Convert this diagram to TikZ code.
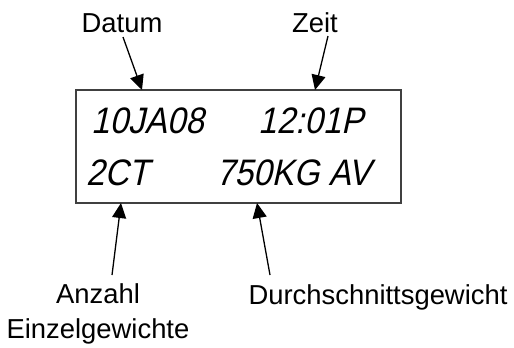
\documentclass[tikz,border=0pt]{standalone}
\usepackage{fontspec}
\setmainfont{Liberation Sans}
\newfontfamily\lcdfont[FakeSlant=0.22,FakeStretch=0.9]{Liberation Sans}
\usetikzlibrary{arrows.meta}
\begin{document}
\begin{tikzpicture}[x=1bp, y=-1bp,
    pointer/.style={line width=1.3bp, -{Triangle[length=15bp,width=14bp]}},
    caption/.style={inner sep=0pt, font=\fontsize{27.5}{35}\selectfont, align=center},
    lcd/.style={inner sep=0pt, anchor=base west, font=\lcdfont\fontsize{37}{37}\selectfont} ]
    \useasboundingbox (0,0) rectangle (514,347);
    % display frame
    \draw [line width=1.6bp, black!75] (76,90) rectangle (401,203);
    \node at (91,133) [lcd] (date) {10JA08};
    \node at (258,133) [lcd] (time) {12:01P};
    \node at (86,185) [lcd] (count) {2CT};
    \node at (216,185) [lcd] (avg) {750KG AV};
    % labels
    \node at (122,23) [caption] (datum) {Datum};
    \node at (315,23) [caption] (zeit) {Zeit};
    \node at (98,314) [caption] (anzahl) {Anzahl\\Einzelgewichte};
    \node at (378,297) [caption] (durch) {Durchschnittsgewicht};
    % pointers
    \coordinate (d1) at (123,37);   \coordinate (d2) at (142,90);
    \coordinate (z1) at (328,36);   \coordinate (z2) at (315,90);
    \coordinate (a1) at (112,275);  \coordinate (a2) at (121,203);
    \coordinate (g1) at (270,275);  \coordinate (g2) at (257,203);
    \draw [pointer] (d1) to (d2);
    \draw [pointer] (z1) to (z2);
    \draw [pointer] (a1) to (a2);
    \draw [pointer] (g1) to (g2);
\end{tikzpicture}
\end{document}
